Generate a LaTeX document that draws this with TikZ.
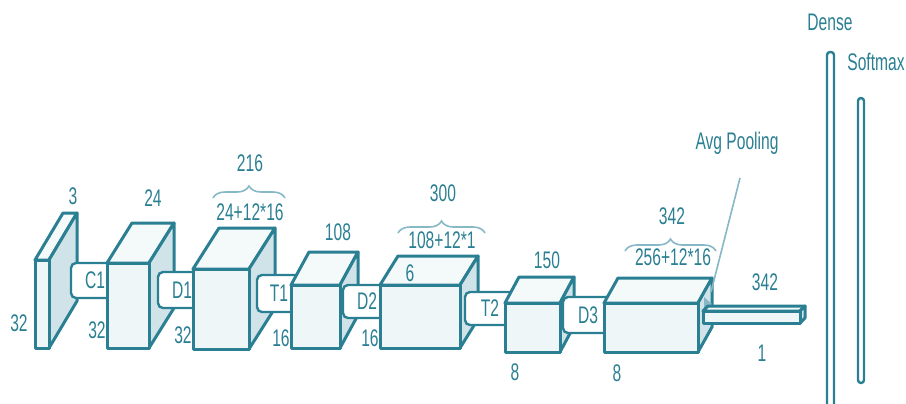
\documentclass[tikz,border=0pt]{standalone}
\usepackage{fontspec}
\setmainfont{Liberation Sans}[FakeStretch=0.65]
\usepackage{xcolor}
\usepackage{tikz}
\usetikzlibrary{calc,decorations.pathreplacing}
\definecolor{accent}{HTML}{2A7F92}
\definecolor{sidefill}{HTML}{CFE3E9}
\definecolor{frontfill}{HTML}{EFF6F8}
\definecolor{topfill}{HTML}{F4F9FA}
\definecolor{bracecol}{HTML}{86B8C5}

\newcommand{\layerbox}[7]{%
  \draw[face, fill=topfill] (#2,#3) -- ++(#6,#7) -- ++({#4-#2},0) -- (#4,#3) -- cycle;
  \draw[face, fill=sidefill] (#4,#3) -- ++(#6,#7) -- ++(0,{#5-#3}) -- (#4,#5) -- cycle;
  \draw[face, fill=frontfill] (#2,#3) rectangle (#4,#5);
  \coordinate (#1) at ({(#2+#4)/2},{(#3+#5)/2});
}

\begin{document}
\begin{tikzpicture}[x=0.5pt, y=-0.5pt,
          every node/.style={font=\fontsize{12}{13}\selectfont, text=accent, inner sep=0pt},
          face/.style={draw=accent, line width=1.5pt, line join=round},
          bar/.style={draw=accent, fill=white, rounded corners=2.5pt,
                      line width=1.2pt, minimum width=24pt},
          thinbar/.style={draw=accent, fill=white, rounded corners=1.5pt, line width=1.2pt},
          brc/.style={draw=bracecol, line width=0.8pt, decorate,
                      decoration={brace, amplitude=6pt}}
      ]
        \useasboundingbox (0,0) rectangle (906,403);

        \layerbox{inp}{35}{260}{49}{348}{28}{-47}
        \node[bar, minimum height=17.5pt] (c1) at (95,280.5) {C1};
        \layerbox{b1}{107}{263}{149}{348}{25}{-40}
        \node[bar, minimum height=18pt] (d1) at (182,290) {D1};
        \layerbox{b2}{193}{269}{249}{349}{26}{-41}
        \node[bar, minimum height=18.5pt, minimum width=22pt] (t1) at (279,293.5) {T1};
        \layerbox{b3}{291}{285}{340}{348}{18}{-33}
        \node[bar, minimum height=16.5pt] (d2) at (367,301.5) {D2};
        \layerbox{b4}{380}{285}{460}{348}{18}{-29}
        \node[bar, minimum height=16.5pt, minimum width=25pt] (t2) at (490,308.5) {T2};
        \layerbox{b5}{505}{303}{560}{352}{14}{-26}
        \node[bar, minimum height=18pt, minimum width=25pt] (d3) at (588,315) {D3};
        \layerbox{b6}{604}{303}{698}{352}{14}{-25}
        \fill[bracecol] (704,297) -- (712,304) -- (704,311) -- cycle;
        \layerbox{flat}{703}{311}{800}{323}{5}{-5}

        \draw[thinbar] (827,52) rectangle (834,412);
        \draw[thinbar] (858,98) rectangle (864,383);

        \draw[brc] (213,198) -- (285,198);
        \draw[brc] (398,233) -- (485,233);
        \draw[brc] (625,251) -- (716,251);

        \node (n3) at (73,196) {3};
        \node (n32a) at (19,323) {32};
        \node (n24) at (153,198) {24};
        \node (n32b) at (97,330) {32};
        \node (n32c) at (183,335) {32};
        \node (n16a) at (281,338) {16};
        \node (n216) at (250,163) {216};
        \node (n24p) at (250,212) {24+12*16};
        \node (n108) at (338,232) {108};
        \node (n16b) at (370,338) {16};
        \node (n300) at (443,193) {300};
        \node (n108p) at (442,240) {108+12*1};
        \node (n6) at (410,273) {6};
        \node (n150) at (547,260) {150};
        \node (n8a) at (515,372) {8};
        \node (n342a) at (672,216) {342};
        \node (n256p) at (673,257) {256+12*16};
        \node (n8b) at (617,373) {8};
        \node (n342b) at (765,282) {342};
        \node (n1) at (762,353) {1};
        \node (avg) at (737,143) {Avg Pooling};
        \node (dense) at (830,22) {Dense};
        \node[anchor=east] (soft) at (905,62) {Softmax};

        \coordinate (avgpt) at (711,292);
        \draw[bracecol, line width=0.8pt] (740,178) -- (avgpt);
      \end{tikzpicture}
\end{document}
